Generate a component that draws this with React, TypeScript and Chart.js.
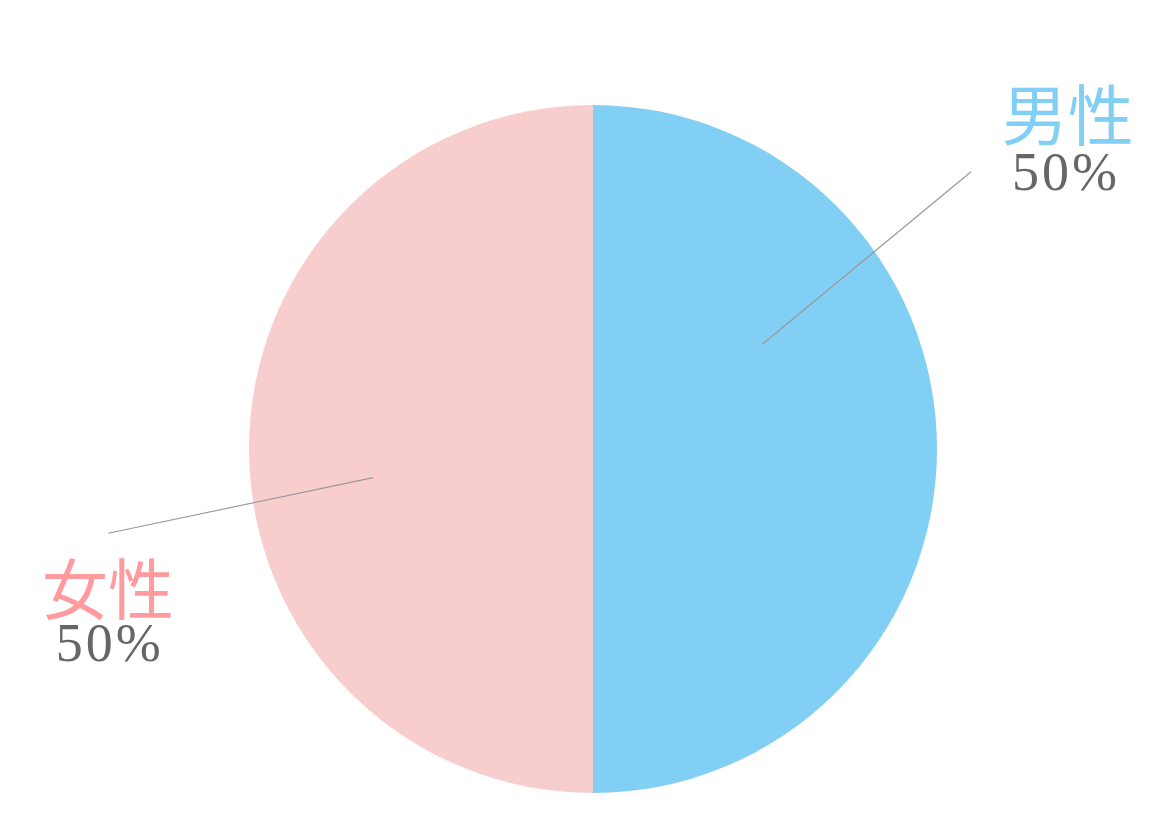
import React, { useEffect, useRef } from "react";
import { Chart, registerables } from "chart.js";

Chart.register(...registerables);

const categories = ["男性", "女性"];
const values = [50, 50];
const sliceColors = ["#81cff4", "#f8cdce"];
const labelColors = ["#81cff4", "#ff9a9e"];

// label layout, in units of pie radius relative to pie centre
const leaderStart = [
  [0.493, -0.305],
  [-0.639, 0.083],
];
const leaderEnd = [
  [1.099, -0.806],
  [-1.409, 0.245],
];
const nameAnchor = [
  [1.38, -0.972],
  [-1.41, 0.406],
];
const valueAnchor = [
  [1.375, -0.795],
  [-1.405, 0.576],
];

const calloutPlugin = {
  id: "callouts",
  afterDatasetsDraw(chart: any) {
    const meta = chart.getDatasetMeta(0);
    const ctx = chart.ctx;
    const data = chart.data.datasets[0].data as number[];
    const total = data.reduce((a: number, b: number) => a + b, 0);
    meta.data.forEach((arc: any, i: number) => {
      const cx = arc.x;
      const cy = arc.y;
      const r = arc.outerRadius;
      ctx.save();
      ctx.strokeStyle = "#999999";
      ctx.lineWidth = 1.2;
      ctx.beginPath();
      ctx.moveTo(cx + leaderStart[i][0] * r, cy + leaderStart[i][1] * r);
      ctx.lineTo(cx + leaderEnd[i][0] * r, cy + leaderEnd[i][1] * r);
      ctx.stroke();

      ctx.textAlign = "center";
      ctx.textBaseline = "middle";
      ctx.fillStyle = labelColors[i];
      ctx.font = "400 66px 'Noto Sans CJK JP', serif";
      ctx.fillText(
        chart.data.labels[i],
        cx + nameAnchor[i][0] * r,
        cy + nameAnchor[i][1] * r
      );
      ctx.fillStyle = "#666666";
      ctx.font = "54px 'Liberation Serif', 'DejaVu Serif', serif";
      const pct = Math.round((data[i] / total) * 100) + "%";
      (ctx as any).letterSpacing = "3px";
      ctx.fillText(pct, cx + valueAnchor[i][0] * r, cy + valueAnchor[i][1] * r);
      ctx.restore();
    });
  },
};

export default function App() {
  const ref = useRef<HTMLCanvasElement>(null);
  useEffect(() => {
    if (!ref.current) return;
    const chart = new Chart(ref.current, {
      type: "pie",
      data: {
        labels: categories,
        datasets: [
          {
            data: values,
            backgroundColor: sliceColors,
            borderWidth: 0,
          },
        ],
      },
      options: {
        animation: false,
        responsive: false,
        layout: { padding: { left: 249, right: 233, top: 105, bottom: 21 } },
        plugins: {
          legend: { display: false },
          tooltip: { enabled: false },
        },
      },
      plugins: [calloutPlugin],
    });
    return () => chart.destroy();
  }, []);
  return (
    <div style={{ position: "absolute", left: 0, top: 0, width: 1170, height: 814, background: "#fff" }}>
      <canvas ref={ref} width={1170} height={814} style={{ width: 1170, height: 814 }} />
    </div>
  );
}
